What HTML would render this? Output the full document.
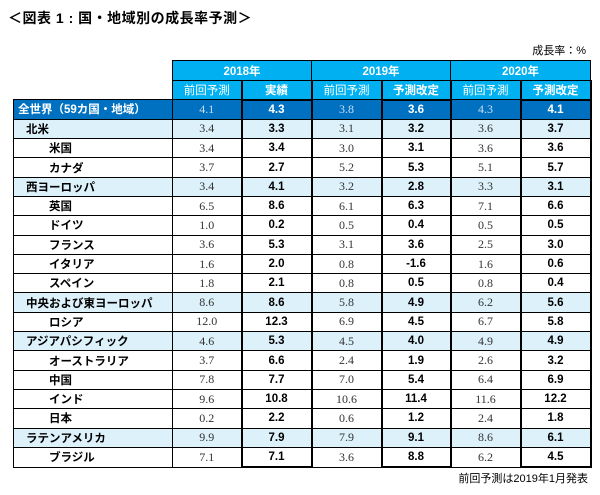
<!DOCTYPE html>
<html><head><meta charset="utf-8"><style>
body{margin:0;width:600px;height:495px;background:#fff;position:relative;font-family:"Liberation Sans","Noto Sans CJK JP",sans-serif;overflow:hidden}
#title{position:absolute;left:8px;top:8px;font-size:14px;font-weight:bold;letter-spacing:0.5px}
#unit{position:absolute;right:14px;top:42px;font-size:11px}
#note{position:absolute;right:12px;top:470px;font-size:11px}
table{position:absolute;left:13px;top:60px;border-collapse:collapse;table-layout:fixed}
td{border:1px solid #000;height:18.3px;padding:0;font-size:11.5px;text-align:center}
.h1 td,.h2 td{background:#00b0f0;color:#fff;font-weight:bold}
.h1 td{height:19px;font-size:11.5px}
.h2 td{height:17.5px;font-weight:normal}
.h2 td.b{font-weight:bold}
td.e{border:none;background:#fff !important}
td.lab{text-align:left;padding-left:4px;font-weight:600}
td.p{font-family:"Liberation Serif","Noto Serif CJK SC",serif;color:#333;font-size:12px}
td.v{font-weight:bold;border-left:2px solid #000;border-right:2px solid #000}
tr.w td{background:#0070c0;color:#fff;font-weight:bold}
tr.w td.p{color:#c8ddf0;font-weight:normal}
tr.r td{background:#ddf1fb}
tr.r td.lab{padding-left:12px}
tr.c td.lab{padding-left:35px}
tr:last-child td.v{border-bottom:2px solid #000}
</style></head><body>
<div id="title">＜図表 1 : 国・地域別の成長率予測＞</div>
<div id="unit">成長率：%</div>
<table id="tbl">
<colgroup><col style="width:159px"><col style="width:69px"><col style="width:70px"><col style="width:70px"><col style="width:69px"><col style="width:70px"><col style="width:70px"></colgroup>
<tr class="h1"><td class="e"></td><td colspan="2">2018年</td><td colspan="2">2019年</td><td colspan="2">2020年</td></tr>
<tr class="h2"><td class="e"></td><td>前回予測</td><td class="b v">実績</td><td>前回予測</td><td class="b v">予測改定</td><td>前回予測</td><td class="b v">予測改定</td></tr>
</table>
<div id="note">前回予測は2019年1月発表</div>
<script>
const labels=["全世界（59カ国・地域）","北米","米国","カナダ","西ヨーロッパ","英国","ドイツ","フランス","イタリア","スペイン","中央および東ヨーロッパ","ロシア","アジアパシフィック","オーストラリア","中国","インド","日本","ラテンアメリカ","ブラジル"];
const kinds=["w","r","c","c","r","c","c","c","c","c","r","c","r","c","c","c","c","r","c"];
const prev2018=["4.1","3.4","3.4","3.7","3.4","6.5","1.0","3.6","1.6","1.8","8.6","12.0","4.6","3.7","7.8","9.6","0.2","9.9","7.1"];
const act2018=["4.3","3.3","3.4","2.7","4.1","8.6","0.2","5.3","2.0","2.1","8.6","12.3","5.3","6.6","7.7","10.8","2.2","7.9","7.1"];
const prev2019=["3.8","3.1","3.0","5.2","3.2","6.1","0.5","3.1","0.8","0.8","5.8","6.9","4.5","2.4","7.0","10.6","0.6","7.9","3.6"];
const rev2019=["3.6","3.2","3.1","5.3","2.8","6.3","0.4","3.6","-1.6","0.5","4.9","4.5","4.0","1.9","5.4","11.4","1.2","9.1","8.8"];
const prev2020=["4.3","3.6","3.6","5.1","3.3","7.1","0.5","2.5","1.6","0.8","6.2","6.7","4.9","2.6","6.4","11.6","2.4","8.6","6.2"];
const rev2020=["4.1","3.7","3.6","5.7","3.1","6.6","0.5","3.0","0.6","0.4","5.6","5.8","4.9","3.2","6.9","12.2","1.8","6.1","4.5"];
const tbl=document.getElementById('tbl');
labels.forEach((l,i)=>{
  const tr=document.createElement('tr');
  tr.className=kinds[i];
  
  
  const vals=[prev2018[i],act2018[i],prev2019[i],rev2019[i],prev2020[i],rev2020[i]];
  const lt=document.createElement('td');
  lt.className='lab';lt.textContent=l;
  
  
  tr.appendChild(lt);
  vals.forEach((v,j)=>{
    const td=document.createElement('td');
    td.className=j%2?'v':'p';
    td.textContent=v;
    
    
    tr.appendChild(td);
  });
  tbl.appendChild(tr);
});
</script>
</body></html>
